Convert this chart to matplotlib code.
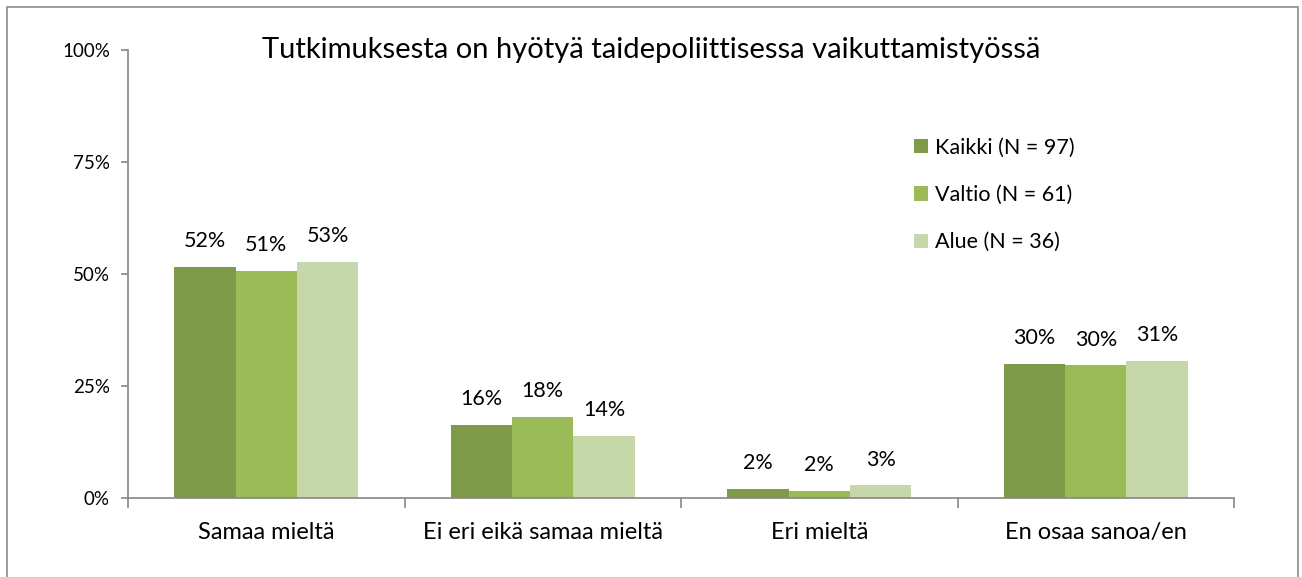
import matplotlib
matplotlib.use("Agg")
import matplotlib.pyplot as plt
import numpy as np
from matplotlib.patches import Rectangle

categories = ["Samaa mieltä", "Ei eri eikä samaa mieltä", "Eri mieltä", "En osaa sanoa/en"]
series_names = ["Kaikki (N = 97)", "Valtio (N = 61)", "Alue (N = 36)"]
kaikki = [0.516, 0.163, 0.021, 0.299]
valtio = [0.507, 0.181, 0.016, 0.296]
alue = [0.527, 0.139, 0.028, 0.306]
yticks = [0, 0.25, 0.5, 0.75, 1.0]
ytick_labels = ["0%", "25%", "50%", "75%", "100%"]
title = "Tutkimuksesta on hyötyä taidepoliittisessa vaikuttamistyössä"

colors = ["#7F9B4A", "#9BBB59", "#C6D7A9"]
FONT = "Lato"
plt.rcParams['font.family'] = [FONT, 'DejaVu Sans']

W, H = 1302, 577
fig = plt.figure(figsize=(W / 100, H / 100), dpi=100)
fig.patches.append(Rectangle((7 / W, -0.05), (1298 - 7) / W, (577 - 7) / H + 0.05,
                             transform=fig.transFigure, fill=False,
                             edgecolor="#8C8C8C", linewidth=1.2))

ax = fig.add_axes([128 / W, (577 - 498) / H, (1234 - 128) / W, (498 - 50) / H])
x = np.arange(len(categories))
bw = 0.222
for i, (vals, c, name) in enumerate(zip([kaikki, valtio, alue], colors, series_names)):
    pos = x + (i - 1) * bw
    ax.bar(pos, vals, width=bw, color=c, label=name, edgecolor="none")
    for px, v in zip(pos, vals):
        ax.annotate(f"{v * 100:.0f}%", (px, v), xytext=(0, 18.5), textcoords="offset points",
                    ha="center", va="center", fontsize=15.5, color="#000000")

ax.set_xlim(-0.5, len(categories) - 0.5)
ax.set_ylim(0, 1)
ax.set_yticks(yticks)
ax.set_yticklabels(ytick_labels, fontsize=13.5)
ax.set_xticks(np.arange(len(categories) + 1) - 0.5, minor=False)
ax.set_xticklabels([])
ax.set_xticks(x, minor=True)
ax.set_xticklabels(categories, minor=True, fontsize=17)
ax.tick_params(axis="x", which="minor", length=0, pad=17)
ax.tick_params(axis="x", which="major", length=7, direction="out", color="#868686", width=1.2)
ax.tick_params(axis="y", length=5, direction="out", color="#868686", width=1.2, pad=8)
for s in ["top", "right"]:
    ax.spines[s].set_visible(False)
for s in ["left", "bottom"]:
    ax.spines[s].set_color("#868686")
    ax.spines[s].set_linewidth(1.2)

fig.text(0.5, (577 - 50) / H, title, ha="center", va="center", fontsize=21)

leg = ax.legend(loc="upper left", bbox_to_anchor=((905 - 128) / (1234 - 128), (498 - 129) / 448),
                frameon=False, fontsize=15.5, handlelength=0.65, handleheight=0.65,
                handletextpad=0.35, labelspacing=1.27, borderaxespad=0)

fig.savefig("out.png", dpi=100)
